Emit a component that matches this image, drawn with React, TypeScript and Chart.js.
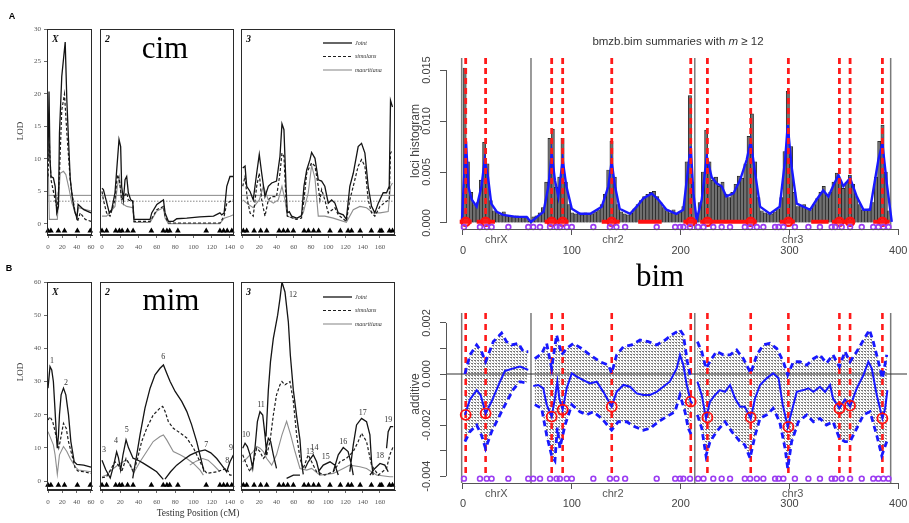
import React, { useEffect, useRef } from "react";
import { Chart, registerables } from "chart.js";

Chart.register(...registerables);

const W = 909;
const H = 523;
const SERIF = "'Liberation Serif', 'DejaVu Serif', serif";
const SANS = "'Liberation Sans', Arial, 'DejaVu Sans', sans-serif";

// ================= LEFT: LOD profiles (cM) =================
const markersX = [0, 4, 14.5, 23, 41, 59];
const markers2 = [0, 5, 15, 19, 22, 28, 34, 54, 67, 71, 74, 83, 114, 129, 133, 137, 142];
const markers3 = [1.5, 5.4, 14, 21.6, 28.6, 43, 48, 53, 59.5, 72, 77, 83, 88.8, 102, 114, 123, 127, 137, 150, 160, 162, 171, 174.5];

const xTicksX = [0, 20, 40, 60];
const xTicks2 = [0, 20, 40, 60, 80, 100, 120, 140];
const xTicks3 = [0, 20, 40, 60, 80, 100, 120, 140, 160];
const cimYTicks = [0, 5, 10, 15, 20, 25, 30];
const mimYTicks = [0, 10, 20, 30, 40, 50, 60];
const cimThresholds = [4.4, 3.5];
const legendNames = ["Joint", "simulans", "mauritiana"];

// --- cim chromosome X
const cimXJointX = [0, 1.4, 2.8, 4.2, 7.5, 10, 12.2, 14.6, 16, 19.2, 24, 26.3, 28.6, 31, 34, 37, 40.4, 42, 50, 60];
const cimXJointY = [9.9, 20.4, 9.9, 7.3, 7.1, 5.8, 1.7, 2.7, 14, 22.7, 28, 19, 13, 7, 4, 2, 0.9, 3, 2.2, 1.7];
const cimXSimX = [0, 1.9, 4.2, 9.9, 13, 16, 19.2, 23, 26.3, 31, 33.3, 38, 41.3, 45, 52, 60];
const cimXSimY = [7.3, 12.4, 6.8, 3.7, 2.2, 7.8, 17.5, 20, 14, 6.8, 4.8, 1.7, 0.4, 1.7, 0.7, 0.4];
const cimXMauX = [0.5, 1.9, 13, 17, 21.6, 24.9, 28.6, 33.3, 40.4, 42.7, 60];
const cimXMauY = [8, 0.7, 0.7, 7.8, 8.1, 7.6, 5.8, 3.2, 1.2, 2.5, 2.0];
// --- cim chromosome 2
const cim2JointX = [0, 1.5, 4.4, 8, 10.6, 14.2, 18.6, 20.4, 21.5, 23.4, 25.2, 27, 28.8, 31.4, 33.6, 35, 52.6, 54.4, 60, 67.2, 69, 72.6, 78, 81.8, 92.7, 107, 122, 129, 131, 133.6, 136.5, 140, 143.8];
const cim2JointY = [5.5, 5.3, 3.7, 1.7, 2.2, 4.8, 13, 11.9, 5.8, 3.7, 6.8, 7.3, 4.8, 3.7, 3.5, 0.7, 0.7, 1.7, 3, 3.7, 1.7, 0.4, 0.4, 0.8, 0.9, 1.1, 1.2, 1.7, 1.4, 1.7, 5.8, 7.3, 7.3];
const cim2SimX = [0, 1.5, 5, 8.8, 14.2, 16.8, 19, 21.5, 24, 27, 28.8, 31.4, 33.6, 35, 52.6, 60, 67.2, 69, 72.6, 129, 133.6, 136.5, 143.8];
const cim2SimY = [5, 3.7, 1.7, 1.2, 3.7, 7.6, 6.8, 3.7, 4.2, 4.8, 3.7, 3.5, 3.5, 0.4, 0.4, 2.2, 2.7, 1.2, 0.15, 0.15, 1.2, 3.2, 3.7];
const cim2MauX = [0, 5, 14.2, 16.8, 19, 21.5, 27, 33.6, 35, 52.6, 60, 67.2, 69, 72.6, 129, 133.6, 140, 143.8];
const cim2MauY = [1.2, 1.2, 2.7, 5.8, 7.3, 3.2, 2.7, 2.5, 0.25, 0.25, 2, 2.5, 0.9, 0.05, 0.05, 0.9, 1.2, 1.4];
// --- cim chromosome 3
const cim3JointX = [0.8, 3.5, 5.4, 9.3, 13, 17, 20, 22.8, 26.6, 30.5, 34.4, 40, 44, 46.3, 48.6, 51, 52.5, 54.8, 57.5, 63.3, 69, 71.8, 75, 78.8, 80.7, 84.6, 88.4, 92.3, 96, 100, 103.9, 107.7, 111.6, 117.4, 121, 125, 129, 134.7, 138.6, 142.5, 146.3, 150.2, 154, 158, 163.7, 167.6, 170.7, 172.2, 174.5];
const cim3JointY = [8.6, 8.9, 5.8, 5, 3.7, 7.8, 10.7, 7.8, 4.2, 5.8, 6.3, 6.6, 10.4, 15.4, 14.5, 5.8, 1.7, 1.9, 1.2, 0.9, 1.2, 5.8, 8.3, 9.9, 11, 10.1, 6.8, 6.6, 5.8, 3.2, 3.7, 3.2, 1.7, 1.4, 0.7, 5.8, 7.8, 11.9, 12.4, 10.9, 5.8, 2.7, 1.7, 3.2, 4.8, 4.8, 5.8, 19, 18];
const cim3SimX = [0.8, 3.5, 6.2, 9.3, 13, 17, 20, 22.8, 26.6, 30.5, 34.4, 40, 44, 46.3, 48.6, 51, 52.5, 63.3, 69, 71.8, 75, 78.8, 80.7, 84.6, 88.4, 90.3, 92.3, 96, 100, 107.7, 111.6, 121, 125, 129, 134.7, 138.6, 142.5, 146.3, 150.2, 154, 160, 167.6, 170.7, 172.2, 174.5];
const cim3SimY = [5.8, 7.3, 3.7, 1.7, 1.2, 5.8, 7.8, 3.7, 1.2, 3.7, 4.2, 4.2, 7.8, 10.9, 10.4, 3.7, 1.2, 0.7, 0.9, 3.7, 7.8, 8.9, 9.4, 8.9, 5.8, 3.7, 5.3, 3.7, 1.7, 2.5, 1.4, 0.4, 3.7, 5.8, 8.9, 9.9, 8.9, 3.7, 1.7, 1.2, 2.7, 3.5, 3.7, 10.9, 11.4];
const cim3MauX = [0.8, 5.4, 13, 17, 20, 24.7, 30.5, 36.3, 42, 46.3, 49.8, 52.5, 63.3, 71, 76.8, 80.7, 84.6, 88.4, 96, 105.8, 121, 129, 136.7, 144.4, 152, 160, 169.5, 172.2, 174.5];
const cim3MauY = [3.7, 3.2, 2.5, 3.2, 3.7, 5.8, 3.7, 3.2, 3.7, 5.8, 3.7, 1.2, 0.7, 1.7, 4.8, 9, 7, 1.2, 1.2, 0.9, 0.25, 2.2, 2.7, 2.5, 1.7, 1.7, 1.9, 5.8, 6.3];

// --- mim chromosome X
const mimXJointX = [0, 2.8, 5.2, 7.5, 9.9, 12.2, 13, 14.6, 16, 18.3, 21.6, 24.9, 28.6, 31.9, 36.6, 40.4, 49.8, 60];
const mimXJointY = [28, 34.5, 33.5, 30, 21, 11.9, 9.9, 13.9, 20, 26, 28, 26, 20, 11.9, 5.8, 5, 4.8, 4.2];
const mimXSimX = [0, 2.8, 6.6, 9.9, 13, 15, 17, 21.6, 25.4, 28.6, 33.3, 38, 42, 49.8, 60];
const mimXSimY = [18.4, 19.4, 17.9, 14.9, 11.9, 10, 12, 17.4, 15.9, 11.9, 7.9, 3.8, 3, 2.8, 2.3];
const mimXMauX = [0, 2.8, 7.5, 9.9, 13, 16, 21.6, 26.3, 31, 38, 42.7, 60];
const mimXMauY = [14.9, 13.4, 10.9, 7.9, 2, 7.9, 10.4, 8.9, 6.8, 4.3, 3.3, 2.8];
const mimXLabText = ["1", "2"];
const mimXLabX = [5.6, 25];
const mimXLabY = [36.2, 29.5];
// --- mim chromosome 2 (null = break between QTL curves)
const mim2JointX = [0, 4, 9, 13, 16, 18, 20.4, 23, 26.3, 29, 34, 40, 45, 52, 59.8, 67, null, 33.6, 38, 41.6, 47, 52.6, 58, 63.5, 67.2, 70.8, 74.5, 80, 87.2, 92.7, 98, 103.6, 109, 111.7, null, 68.9, 75, 81.7, 90, 96.3, 104, 112.7, 119, 125.5, 131, 136.4, 140, 143.7];
const mim2JointY = [6.3, 3.5, 0.9, 5, 8.8, 7, 3.3, 8, 12.4, 10, 6.9, 6.2, 5.4, 4.2, 2.8, 0.5, null, 0.8, 7.9, 13.9, 22, 28, 32, 34, 35, 32.5, 30, 27, 24, 21, 17, 11.9, 5.8, 2.8, null, 0.6, 2.8, 4.8, 6.6, 7.8, 8.8, 9.4, 8.5, 6.8, 4.8, 2.8, 5.8, 7.8];
const mim2SimX = [0, 5, 14.2, 17.9, 21.5, 26.3, 30.7, 34.3, 38, 43.4, 48.9, 56, 63.5, 66.4, 69, 72.6, 78, 85.4, 92.7, 100, 107.3, 110.9, 114.6, 125.5, 136.5, 140, 143.8];
const mim2SimY = [1, 1.3, 5.8, 4.8, 2.8, 6.8, 4.8, 2.8, 5.8, 11.9, 15.9, 19.9, 22, 22.5, 21, 17.9, 15.9, 14.5, 13, 10, 5.8, 3.8, 2.3, 2.8, 3.8, 1.8, 1.8];
const mim2MauX = [0, 5, 12.4, 19.7, 26.3, 31.4, 34.3, 41.6, 48.9, 56, 63.5, 67.2, 70.8, 78, 85.4, 92.7, 100, 107.3, 110.9, null, 96, 103, 110, 116, 122, 129];
const mim2MauY = [1.3, 1.8, 3.8, 5.3, 6.3, 4.8, 2.3, 5.8, 8.9, 11.9, 13.4, 13.9, 12.4, 8.9, 7.9, 6.8, 5.3, 3.3, 1.8, null, 4.8, 6, 6.8, 6.3, 4.8, 2.8];
const mim2LabText = ["3", "4", "5", "6", "7", "8", "9"];
const mim2LabX = [2.2, 15.3, 27, 67, 114, 137, 141];
const mim2LabY = [9.5, 12, 15.5, 37.5, 11, 6, 10];
// --- mim chromosome 3
const mim3JointX = [0.8, 3.5, 6.2, 9.3, 12.4, 15, 17.8, 20.8, 24, 26.6, 28.6, null, 26.6, 30.5, 33.2, 36.3, 40, null, 27.8, 30.5, 33, 36.3, 41.3, 44, 46.3, 49.8, 53.7, 56, 59.5, 63.4, 67.2, 69.2, 71, null, 51.7, 59.5, 67.2, null, 73, 76.8, 82.6, 86.5, 90.3, null, 88.4, 94.2, 102, 107.7, 111.6, null, 105.8, 111.6, 117.4, 123, 127, 129, null, 125, 129, 132.8, 138.6, 144.4, 148.3, 150.2, 152, null, 148.3, 154, 160, 165.6, 169.5, null, 167.6, 169.5, 172.2, 175.3];
const mim3JointY = [9.9, 11.4, 10.4, 7.9, 3.8, 9.9, 17.9, 20.9, 19.9, 13.9, 7.9, null, 7.9, 12.9, 11.9, 7.9, 3.8, null, 13.4, 27.4, 36, 43, 50, 55, 60, 57, 48, 38, 27.4, 19.4, 12.4, 5.3, 2, null, 0.8, 1.8, 1.8, null, 3.8, 5.8, 7.9, 5.8, 1.8, null, 2.8, 4.8, 5.8, 4.8, 1.8, null, 2.8, 7.9, 10.1, 8.9, 4.8, 1.8, null, 2.8, 10.9, 16.9, 18.9, 17.9, 13.9, 5.8, 1.8, null, 1.8, 3.8, 5.3, 4.8, 2.8, null, 9.9, 14.9, 16.4, 16.4];
const mim3SimX = [0.8, 5.4, 9.3, 13, 17, 20.8, 24.7, 28.6, 32.4, 36.3, 40, 44, 46.3, 49.8, 55.6, 59.5, 63.3, 67.2, 71, 76.8, 80.7, 86.5, 96, 105.8, 113.5, 121, 129, 134.7, 138.6, 144.4, 150.2, 158, 167.6, 171.4, 175.3];
const mim3SimY = [7.9, 4.8, 2.8, 5.8, 9.9, 8.9, 6.8, 7.9, 11.9, 19.9, 26, 29, 30, 29, 30, 24, 13.9, 6.8, 3.8, 7.9, 5.8, 2.8, 1.8, 2.8, 5.8, 6.8, 8.9, 11.9, 14.4, 11.9, 4.8, 1.8, 3.8, 7.9, 10.4];
const mim3MauX = [0.8, 5.4, 9.3, 13, 17, 20.8, 24.7, 28.6, 34.4, 40, 46.3, 51.7, 56.4, 61.4, 67.2, 74.9, 80.7, 90.3, 105.8, 117.4, 125, 136.7, 144.4, 156, 171.4, 175.3];
const mim3MauY = [5.8, 6.8, 7.9, 8.9, 10.4, 9.9, 8.9, 6.8, 4.8, 7.9, 13.9, 18, 13.9, 8.9, 3.8, 3.3, 3.8, 1.8, 2.3, 3.8, 4.8, 4.3, 3.8, 1.8, 1.3, 1.3];
const mim3LabText = ["10", "11", "12", "13", "14", "15", "16", "17", "18", "19"];
const mim3LabX = [4.6, 22, 59, 78.8, 84, 97, 117.5, 140, 160, 169.6];
const mim3LabY = [13.9, 22.9, 56, 8.7, 10, 7.3, 11.7, 20.4, 7.5, 18.4];

// ================= RIGHT: bim summaries (genome cM) =================
const rXTicks = [0, 100, 200, 300, 400];
const chromBounds = [-1.2, 62.5, 213, 393];
const chromNames = ["chrX", "chr2", "chr3"];
const qtlPos = [2.5, 20.8, 81.5, 91.6, 136.7, 209.3, 224.6, 264.4, 299, 345.9, 355.7, 385.4];
const intervalStart = [-3, 12.6, 75, 87.6, 127.5, 161, 202.5, 218, 291, 320, 339, 349.5, 377];
const intervalEnd = [8, 29.4, 87.6, 97, 144, 182.6, 215, 270, 305, 336, 349.5, 360, 392];
const purplePos = [0.9, 15.6, 21.8, 26.3, 41.7, 60, 64.6, 70.8, 80, 86, 89, 95.3, 100, 119.8, 135, 141, 149, 178, 195, 199.5, 202.5, 208.6, 216, 221, 230, 237.7, 245.4, 259, 263.8, 270, 276, 286.8, 290, 294.4, 305, 317.4, 328, 338.8, 342, 348, 355.7, 366.4, 377, 381.7, 386.3, 391];

const histX = [
  1.5, 4.5, 7.5, 10.5, 13.5, 16.5, 19.5, 22.5, 25.5, 28.5,
  31.5, 34.5, 37.5, 40.5, 43.5, 46.5, 49.5, 52.5, 55.5, 58.5,
  61.5, 64.5, 67.5, 70.5, 73.5, 76.5, 79.5, 82.5, 85.5, 88.5,
  91.5, 94.5, 97.5, 100.5, 103.5, 106.5, 109.5, 112.5, 115.5, 118.5,
  121.5, 124.5, 127.5, 130.5, 133.5, 136.5, 139.5, 142.5, 145.5, 148.5,
  151.5, 154.5, 157.5, 160.5, 163.5, 166.5, 169.5, 172.5, 175.5, 178.5,
  181.5, 184.5, 187.5, 190.5, 193.5, 196.5, 199.5, 202.5, 205.5, 208.5,
  211.5, 214.5, 217.5, 220.5, 223.5, 226.5, 229.5, 232.5, 235.5, 238.5,
  241.5, 244.5, 247.5, 250.5, 253.5, 256.5, 259.5, 262.5, 265.5, 268.5,
  271.5, 274.5, 277.5, 280.5, 283.5, 286.5, 289.5, 292.5, 295.5, 298.5,
  301.5, 304.5, 307.5, 310.5, 313.5, 316.5, 319.5, 322.5, 325.5, 328.5,
  331.5, 334.5, 337.5, 340.5, 343.5, 346.5, 349.5, 352.5, 355.5, 358.5,
  361.5, 364.5, 367.5, 370.5, 373.5, 376.5, 379.5, 382.5, 385.5, 388.5,
  391.5,
];
const histY = [
  0.0152, 0.006, 0.003, 0.0018, 0.002, 0.0042, 0.0079, 0.0058, 0.0022, 0.0012,
  0.001, 0.0008, 0.0011, 0.0007, 0.0007, 0.0006, 0.0007, 0.0006, 0.0006, 0.0006,
  0.0002, 0.0006, 0.0007, 0.001, 0.0015, 0.004, 0.0083, 0.0092, 0.0035, 0.0045,
  0.0083, 0.004, 0.0018, 0.001, 0.0009, 0.001, 0.0008, 0.001, 0.0009, 0.0009,
  0.0011, 0.0013, 0.0018, 0.0028, 0.0052, 0.008, 0.0045, 0.0018, 0.0011, 0.0009,
  0.0008, 0.001, 0.0014, 0.0018, 0.0022, 0.0026, 0.0028, 0.003, 0.0031, 0.0026,
  0.002, 0.0015, 0.0012, 0.001, 0.0013, 0.0009, 0.0011, 0.0016, 0.006, 0.0125,
  0.004, 0.0004, 0.002, 0.005, 0.0091, 0.006, 0.0042, 0.0045, 0.0036, 0.004,
  0.0028, 0.0025, 0.003, 0.0038, 0.0046, 0.0044, 0.0058, 0.0085, 0.0107, 0.006,
  0.0025, 0.0012, 0.001, 0.0009, 0.0009, 0.0011, 0.0014, 0.0025, 0.007, 0.0129,
  0.0075, 0.003, 0.0016, 0.0017, 0.0018, 0.0014, 0.0013, 0.0018, 0.0024, 0.003,
  0.0036, 0.0028, 0.003, 0.004, 0.0049, 0.004, 0.0034, 0.004, 0.0047, 0.0038,
  0.0026, 0.0018, 0.0013, 0.0012, 0.0014, 0.002, 0.0045, 0.008, 0.0096, 0.005,
  0.0012,
];
const blueX = [-1, 0.5, 2.8, 4.9, 8, 12.6, 17, 20, 23, 26, 31, 37, 49, 58.5, 62.5, 68, 74, 78.5, 81.5, 84.5, 87.6, 91.6, 95, 100, 107.5, 117, 127.5, 133.6, 136.6, 139.7, 144, 153.5, 159.6, 165.7, 173.4, 179.5, 187, 196, 202.5, 207, 209.3, 211.7, 214.7, 219.4, 224, 228.5, 233, 237.7, 242, 248.5, 254.6, 260.7, 264.4, 268, 273, 282, 291, 296, 298.4, 302, 306.7, 312.8, 319, 325, 331, 335.8, 340, 345, 349.5, 355.7, 361.8, 368, 374, 381.7, 385.4, 389.4, 394];
const blueY = [0.0001, 0.0035, 0.008, 0.0036, 0.0023, 0.0016, 0.0036, 0.0062, 0.0045, 0.0019, 0.0011, 0.0008, 0.0006, 0.0006, 0.0001, 0.0006, 0.0011, 0.0036, 0.0068, 0.0042, 0.0026, 0.0062, 0.0036, 0.0014, 0.0009, 0.0009, 0.0016, 0.0036, 0.006, 0.0036, 0.0014, 0.0009, 0.0016, 0.0024, 0.0029, 0.0023, 0.0013, 0.0009, 0.0013, 0.0055, 0.0075, 0.0029, 0.0003, 0.0023, 0.0065, 0.0045, 0.0039, 0.0036, 0.0026, 0.0029, 0.0042, 0.0062, 0.008, 0.0052, 0.0016, 0.0009, 0.0016, 0.0062, 0.0096, 0.0055, 0.0019, 0.0016, 0.0013, 0.0023, 0.0032, 0.0026, 0.0036, 0.0047, 0.0036, 0.0044, 0.0026, 0.0013, 0.0013, 0.0062, 0.0078, 0.0039, 0.0001];
const histYTicks = [0, 0.005, 0.01, 0.015];
const histYLabels = ["0.000", "0.005", "0.010", "0.015"];

const meanX = [1.8, 6.4, 12.6, 16.2, 20.8, 26.3, 34, 38.6, 46.3, 52.4, 60, null, 64.6, 69.2, 73.8, 76.9, 81.5, 84.5, 86.7, 88.5, 91.6, 95.3, 100, 104.5, 110.6, 116.7, 122.9, 129, 136.6, 141.2, 147.4, 153.5, 159.6, 165.7, 171.9, 178, 184, 190, 196.4, 199.4, 202.5, 205.6, 209.3, 211, null, 215.4, 219.4, 223.3, 227, 231.6, 236, 240.8, 245.4, 250, 254.6, 259, 264.4, 268.4, 273, 279, 285, 290, 293.8, 298.4, 302, 306.7, 312.8, 317.4, 322, 328, 332.7, 337.3, 340, 345.9, 351, 355.7, 361.8, 368, 372.5, 375.6, 380.2, 385.4, 387.9, 390];
const meanY = [-0.0016, -0.001, -0.00063, -0.00082, -0.00154, -0.00108, -0.0003, 0.00012, 0.00022, 0.00029, 0.00016, null, -0.00047, -0.00043, -0.00056, -0.0012, -0.00167, -0.00095, -0.0003, -0.00095, -0.0014, -0.00056, 0.00003, -0.0001, -0.00024, -0.00037, -0.0003, -0.0007, -0.00128, -0.0007, -0.00043, -0.0005, -0.00076, -0.00082, -0.00082, -0.0007, -0.0005, -0.0003, 0.00022, 0.00075, 0.00035, -0.00043, -0.00108, -0.00115, null, -0.0003, -0.00082, -0.00174, -0.00108, -0.00082, -0.00063, -0.0007, -0.00043, -0.00095, -0.00128, -0.00128, -0.00174, -0.00095, -0.00043, -0.00017, 0.00003, -0.00017, -0.0012, -0.00207, -0.00148, -0.0007, -0.00063, -0.00056, -0.0007, -0.0005, -0.0007, -0.00043, -0.00095, -0.00135, -0.001, -0.00128, -0.00056, -0.00004, 0.00048, 0.00022, -0.00082, -0.00174, -0.00135, -0.00063];
const upperX = [1.8, 6.4, 12.6, 17, 20.8, 27.9, 35.5, 40, 44.7, 50.9, 55.5, 60, null, 66, 72.3, 76.9, 81.5, 86, 90.7, 95.3, 101.4, 109, 116.7, 126, 133.6, 136.6, 141.2, 147.4, 155, 162.7, 170.3, 178, 185.7, 191.8, 199.4, 202.5, 206.2, 209.3, null, 215.4, 219.4, 223.3, 228.5, 233, 239.3, 245.4, 251.5, 257.7, 264.4, 270, 276, 282, 288.3, 294.4, 298.4, 303.6, 309.7, 315.9, 322, 328, 334, 340, 345.9, 351, 355.7, 361.8, 368, 373.5, 377, 381.7, 385.4, 389.4];
const upperY = [0, 0.00075, 0.00114, 0.00088, 0.00048, 0.00127, 0.0016, 0.00127, 0.00114, 0.0012, 0.00088, 0.00088, null, 0.0006, 0.0008, 0.0012, 0.00022, 0.00153, 0.00075, 0.001, 0.0012, 0.001, 0.00075, 0.00048, 0.00035, 0.00003, 0.00075, 0.00107, 0.00114, 0.00133, 0.00127, 0.00114, 0.00133, 0.00153, 0.00173, 0.00153, 0.00048, -0.00017, null, 0.00127, 0.00088, 0.00022, 0.0006, 0.00088, 0.00075, 0.00075, 0.00094, 0.0006, 0.00003, 0.00075, 0.00114, 0.0012, 0.001, 0.00048, -0.00004, 0.00048, 0.00048, 0.00035, 0.0006, 0.00075, 0.00042, 0.00075, 0.00029, 0.00088, 0.00048, 0.00088, 0.00133, 0.00173, 0.00127, 0.00048, -0.00017, 0.00075];
const lowerX = [1.8, 6.4, 12.6, 17, 20.8, 26.3, 34, 40, 46.3, 52.4, 58.5, null, 66, 72.3, 76.9, 81.5, 84.5, 86.7, 89, 93.8, 100, 107.5, 113.7, 119.8, 127.5, 136.6, 142.8, 150.4, 158, 165.7, 171.9, 179.5, 187.2, 194.8, 199.4, 204, 207, 210, null, 215.4, 219.4, 223.3, 227, 233, 240.8, 247, 254.6, 259, 263.8, 268.4, 273, 279, 285, 291, 296, 298.4, 302, 308.2, 315.9, 322, 328, 334, 340, 345.9, 351, 355.7, 361.8, 368, 374, 380.2, 384.8, 389.4];
const lowerY = [-0.00265, -0.00226, -0.002, -0.0024, -0.00292, -0.00226, -0.0016, -0.0011, -0.0006, -0.0003, -0.00035, null, -0.0012, -0.00135, -0.0024, -0.0032, -0.0034, -0.0021, -0.0029, -0.002, -0.0012, -0.00148, -0.0016, -0.00148, -0.00174, -0.0022, -0.00187, -0.00187, -0.00207, -0.0022, -0.00213, -0.00187, -0.00167, -0.00148, -0.00082, -0.00148, -0.00213, -0.0024, null, -0.0016, -0.00213, -0.0032, -0.00265, -0.00226, -0.00187, -0.00226, -0.00265, -0.00278, -0.0033, -0.0024, -0.00174, -0.0016, -0.00135, -0.00187, -0.00292, -0.0037, -0.00265, -0.00187, -0.0016, -0.00187, -0.00174, -0.002, -0.00187, -0.00252, -0.00265, -0.00265, -0.00213, -0.0016, -0.00148, -0.0024, -0.0032, -0.00265];
const qtlAdd = [-0.0016, -0.00154, -0.00167, -0.0014, -0.00128, -0.00108, -0.0017, -0.0017, -0.00207, -0.00135, -0.00124, -0.00174];
const addYTicks = [-0.004, -0.003, -0.002, -0.001, 0, 0.001, 0.002];
const addYLabels = ["-0.004", "", "-0.002", "", "0.000", "", "0.002"];

// ================= helpers =================
type Area = { l: number; t: number; r: number; b: number };
type NA = (number | null)[];

const pts = (xs: NA, ys: NA) => xs.map((x, i) => ({ x: x === null ? 0 : x, y: ys[i] }));

function segments(xs: NA, ys: NA) {
  const out: { x: number; y: number }[][] = [];
  let cur: { x: number; y: number }[] = [];
  xs.forEach((x, i) => {
    const y = ys[i];
    if (x === null || y === null) {
      if (cur.length) out.push(cur);
      cur = [];
    } else cur.push({ x, y });
  });
  if (cur.length) out.push(cur);
  return out;
}

function padFor(a: Area, yw: number, xh: number) {
  return { left: a.l - yw, top: a.t, right: W - a.r, bottom: H - a.b - xh };
}
const fixedTicks = (vals: number[]) => (s: any) => {
  s.ticks = vals.map((v) => ({ value: v }));
};

const STY: Record<string, any> = {
  joint: { borderColor: "#141414", borderWidth: 1.3, borderDash: [] },
  sim: { borderColor: "#1e1e1e", borderWidth: 1.2, borderDash: [3, 2] },
  mau: { borderColor: "#8e8e8e", borderWidth: 1.1, borderDash: [] },
};

const framePlugin = {
  id: "frame",
  afterDraw(chart: any) {
    const { ctx, chartArea: a } = chart;
    ctx.save();
    ctx.strokeStyle = "#2a2a2a";
    ctx.lineWidth = 1;
    ctx.strokeRect(Math.round(a.left) + 0.5, Math.round(a.top) + 0.5, Math.round(a.right - a.left) - 1, Math.round(a.bottom - a.top) - 1);
    ctx.restore();
  },
};

type Series = { xs: NA; ys: NA; kind: string };
type Panel = {
  area: Area; xmin: number; xmax: number; ymin: number; ymax: number;
  xticks: number[]; yticks?: number[]; series: Series[]; markers: number[]; markerY: number;
  thresholds?: number[]; chrom: string; legend?: boolean; legendDy?: number;
  labText?: string[]; labX?: number[]; labY?: number[];
};

function panelText(p: Panel) {
  return {
    id: "ptext",
    afterDraw(chart: any) {
      const { ctx, chartArea: a, scales } = chart;
      ctx.save();
      ctx.fillStyle = "#111";
      ctx.font = `italic bold 10px ${SERIF}`;
      ctx.textBaseline = "middle";
      ctx.textAlign = "left";
      ctx.fillText(p.chrom, a.left + 5, a.top + 10);
      if (p.labText && p.labX && p.labY) {
        ctx.font = `8px ${SERIF}`;
        ctx.textAlign = "center";
        ctx.fillStyle = "#333";
        p.labText.forEach((t, i) => {
          ctx.fillText(t, scales.x.getPixelForValue(p.labX![i]), scales.y.getPixelForValue(p.labY![i]));
        });
      }
      if (p.legend) {
        const dy = p.legendDy || 0;
        const kinds = ["joint", "sim", "mau"];
        ctx.font = `italic 6px ${SERIF}`;
        ctx.textAlign = "left";
        kinds.forEach((k, i) => {
          const y = a.top + 14 + dy + i * 13.5;
          ctx.beginPath();
          ctx.strokeStyle = STY[k].borderColor;
          ctx.lineWidth = STY[k].borderWidth;
          ctx.setLineDash(STY[k].borderDash);
          ctx.moveTo(a.right - 72, y);
          ctx.lineTo(a.right - 43, y);
          ctx.stroke();
          ctx.setLineDash([]);
          ctx.fillStyle = "#333";
          ctx.fillText(legendNames[i], a.right - 40, y);
        });
      }
      ctx.restore();
    },
  };
}

function lodPanel(p: Panel) {
  const yw = p.yticks ? 24 : 0;
  const xh = 22;
  const datasets: any[] = [];
  datasets.push({
    type: "scatter",
    data: p.markers.map((x) => ({ x, y: p.markerY })),
    pointStyle: "triangle",
    pointRadius: 3.3,
    pointBackgroundColor: "#000",
    pointBorderColor: "#000",
    pointBorderWidth: 0,
    clip: false,
    order: 0,
  });
  p.series.forEach((s, i) =>
    datasets.push({
      type: "line",
      showLine: true,
      data: pts(s.xs, s.ys),
      ...STY[s.kind],
      pointRadius: 0,
      fill: false,
      spanGaps: false,
      order: 1 + i,
    })
  );
  (p.thresholds || []).forEach((t, i) =>
    datasets.push({
      type: "line",
      showLine: true,
      data: [{ x: p.xmin, y: t }, { x: p.xmax, y: t }],
      borderColor: "#6a6a6a",
      borderWidth: 0.8,
      borderDash: i ? [1.5, 1.5] : [],
      pointRadius: 0,
      order: 20,
    })
  );
  const tickFont = { family: SERIF, size: 7 };
  return {
    type: "scatter",
    data: { datasets },
    options: {
      responsive: false,
      animation: false,
      events: [],
      layout: { padding: padFor(p.area, yw, xh), autoPadding: false },
      plugins: { legend: { display: false }, tooltip: { enabled: false }, title: { display: false } },
      scales: {
        x: {
          type: "linear", min: p.xmin, max: p.xmax, offset: false,
          afterBuildTicks: fixedTicks(p.xticks),
          afterFit: (s: any) => { s.height = xh; s.paddingLeft = 0; s.paddingRight = 0; },
          grid: { drawOnChartArea: false, offset: false, tickLength: 3, color: "#444", lineWidth: 0.8 },
          border: { color: "#2a2a2a", width: 1 },
          ticks: { font: tickFont, color: "#555", padding: 5, autoSkip: false, maxRotation: 0, minRotation: 0 },
        },
        y: p.yticks
          ? {
              type: "linear", min: p.ymin, max: p.ymax,
              afterBuildTicks: fixedTicks(p.yticks),
              afterFit: (s: any) => { s.width = yw; s.paddingTop = 0; s.paddingBottom = 0; },
              grid: { drawOnChartArea: false, tickLength: 3, color: "#444", lineWidth: 0.8 },
              border: { color: "#2a2a2a", width: 1 },
              ticks: { font: tickFont, color: "#555", padding: 3, autoSkip: false },
            }
          : { type: "linear", display: false, min: p.ymin, max: p.ymax },
      },
    },
    plugins: [framePlugin, panelText(p)],
  };
}

const A_T = 29, A_B = 235, B_T = 282, B_B = 490;
const colX = { l: 47, r: 92, min: -1.4, max: 61.4 };
const col2 = { l: 100, r: 234, min: -2.2, max: 144.4 };
const col3 = { l: 241, r: 395, min: -1.2, max: 177.4 };

const leftBuilders = [
  () => lodPanel({
    area: { l: colX.l, t: A_T, r: colX.r, b: A_B }, xmin: colX.min, xmax: colX.max, ymin: -1.7, ymax: 30,
    xticks: xTicksX, yticks: cimYTicks, markers: markersX, markerY: -1.05, thresholds: cimThresholds, chrom: "X",
    series: [
      { xs: cimXJointX, ys: cimXJointY, kind: "joint" },
      { xs: cimXSimX, ys: cimXSimY, kind: "sim" },
      { xs: cimXMauX, ys: cimXMauY, kind: "mau" },
    ],
  }),
  () => lodPanel({
    area: { l: col2.l, t: A_T, r: col2.r, b: A_B }, xmin: col2.min, xmax: col2.max, ymin: -1.7, ymax: 30,
    xticks: xTicks2, markers: markers2, markerY: -1.05, thresholds: cimThresholds, chrom: "2",
    series: [
      { xs: cim2JointX, ys: cim2JointY, kind: "joint" },
      { xs: cim2SimX, ys: cim2SimY, kind: "sim" },
      { xs: cim2MauX, ys: cim2MauY, kind: "mau" },
    ],
  }),
  () => lodPanel({
    area: { l: col3.l, t: A_T, r: col3.r, b: A_B }, xmin: col3.min, xmax: col3.max, ymin: -1.7, ymax: 30,
    xticks: xTicks3, markers: markers3, markerY: -1.05, thresholds: cimThresholds, chrom: "3", legend: true,
    series: [
      { xs: cim3JointX, ys: cim3JointY, kind: "joint" },
      { xs: cim3SimX, ys: cim3SimY, kind: "sim" },
      { xs: cim3MauX, ys: cim3MauY, kind: "mau" },
    ],
  }),
  () => lodPanel({
    area: { l: colX.l, t: B_T, r: colX.r, b: B_B }, xmin: colX.min, xmax: colX.max, ymin: -2.7, ymax: 60,
    xticks: xTicksX, yticks: mimYTicks, markers: markersX, markerY: -1.2, chrom: "X",
    labText: mimXLabText, labX: mimXLabX, labY: mimXLabY,
    series: [
      { xs: mimXJointX, ys: mimXJointY, kind: "joint" },
      { xs: mimXSimX, ys: mimXSimY, kind: "sim" },
      { xs: mimXMauX, ys: mimXMauY, kind: "mau" },
    ],
  }),
  () => lodPanel({
    area: { l: col2.l, t: B_T, r: col2.r, b: B_B }, xmin: col2.min, xmax: col2.max, ymin: -2.7, ymax: 60,
    xticks: xTicks2, markers: markers2, markerY: -1.2, chrom: "2",
    labText: mim2LabText, labX: mim2LabX, labY: mim2LabY,
    series: [
      { xs: mim2JointX, ys: mim2JointY, kind: "joint" },
      { xs: mim2SimX, ys: mim2SimY, kind: "sim" },
      { xs: mim2MauX, ys: mim2MauY, kind: "mau" },
    ],
  }),
  () => lodPanel({
    area: { l: col3.l, t: B_T, r: col3.r, b: B_B }, xmin: col3.min, xmax: col3.max, ymin: -2.7, ymax: 60,
    xticks: xTicks3, markers: markers3, markerY: -1.2, chrom: "3", legend: true, legendDy: 1,
    labText: mim3LabText, labX: mim3LabX, labY: mim3LabY,
    series: [
      { xs: mim3JointX, ys: mim3JointY, kind: "joint" },
      { xs: mim3SimX, ys: mim3SimY, kind: "sim" },
      { xs: mim3MauX, ys: mim3MauY, kind: "mau" },
    ],
  }),
];

// ================= right charts =================
const R_XMIN = -15.6;
const R_XMAX = 408;
const R_YW = 40;
const R_XH = 30;

function rAxes(yTicks: number[], yLabels: string[], xLabelPad: number) {
  return {
    id: "raxes",
    afterDraw(chart: any) {
      const { ctx, chartArea: a, scales } = chart;
      const x = scales.x, y = scales.y;
      ctx.save();
      ctx.strokeStyle = "#555";
      ctx.lineWidth = 1;
      ctx.beginPath();
      ctx.moveTo(Math.round(a.left) + 0.5, y.getPixelForValue(yTicks[0]));
      ctx.lineTo(Math.round(a.left) + 0.5, y.getPixelForValue(yTicks[yTicks.length - 1]));
      ctx.moveTo(x.getPixelForValue(rXTicks[0]), Math.round(a.bottom) + 0.5);
      ctx.lineTo(x.getPixelForValue(rXTicks[rXTicks.length - 1]), Math.round(a.bottom) + 0.5);
      ctx.stroke();
      ctx.fillStyle = "#444";
      ctx.font = `11px ${SANS}`;
      ctx.textAlign = "center";
      ctx.textBaseline = "middle";
      yTicks.forEach((v, i) => {
        if (!yLabels[i]) return;
        ctx.save();
        ctx.translate(a.left - 19, y.getPixelForValue(v));
        ctx.rotate(-Math.PI / 2);
        ctx.fillText(yLabels[i], 0, 0);
        ctx.restore();
      });
      ctx.textBaseline = "top";
      rXTicks.forEach((v) => {
        ctx.fillText(String(v), x.getPixelForValue(v), a.bottom + 6 + xLabelPad);
      });
      ctx.textBaseline = "middle";
      ctx.fillStyle = "#555";
      chromNames.forEach((n, i) => {
        const cx = x.getPixelForValue((chromBounds[i] + chromBounds[i + 1]) / 2);
        ctx.fillText(n, cx, a.bottom + 11);
      });
      ctx.restore();
    },
  };
}

function rScales(ymin: number, ymax: number, yTicks: number[]) {
  return {
    x: {
      type: "linear", min: R_XMIN, max: R_XMAX, offset: false,
      afterBuildTicks: fixedTicks(rXTicks),
      afterFit: (s: any) => { s.height = R_XH; s.paddingLeft = 0; s.paddingRight = 0; },
      grid: { drawOnChartArea: false, offset: false, tickLength: 6, color: "#555", lineWidth: 1 },
      border: { display: false },
      ticks: { display: false },
    },
    y: {
      type: "linear", min: ymin, max: ymax, offset: false,
      afterBuildTicks: fixedTicks(yTicks),
      afterFit: (s: any) => { s.width = R_YW; s.paddingTop = 0; s.paddingBottom = 0; },
      grid: { drawOnChartArea: false, offset: false, tickLength: 6, color: "#555", lineWidth: 1 },
      border: { display: false },
      ticks: { display: false },
    },
  };
}

function verticals(xs: number[], top: number, bottom: number) {
  const out: any[] = [];
  xs.forEach((x) => {
    out.push({ x, y: top }, { x, y: bottom }, { x, y: null });
  });
  return out;
}

const HIST_Y = { min: -0.00059, max: 0.01618 };
const ADD_Y = { min: -0.00427, max: 0.00239 };
const PURPLE_Y_TOP = -0.0004;
const RED_Y_TOP = 0.00012;
const PURPLE_Y_ADD = -0.0041;

function histChart() {
  const intervals: any[] = [];
  intervalStart.forEach((s, i) => {
    intervals.push({ x: s, y: RED_Y_TOP }, { x: intervalEnd[i], y: RED_Y_TOP }, { x: intervalEnd[i], y: null });
  });
  const datasets: any[] = [
    { type: "scatter", data: purplePos.map((x) => ({ x, y: PURPLE_Y_TOP })), pointRadius: 2.4, pointBorderWidth: 1.6, pointBorderColor: "#9b3cf2", pointBackgroundColor: "rgba(0,0,0,0)", clip: false, order: 0 },
    { type: "scatter", data: qtlPos.map((x) => ({ x, y: RED_Y_TOP })), pointRadius: 4.2, pointBorderWidth: 2.2, pointBorderColor: "#ff1010", pointBackgroundColor: "rgba(255,40,40,0.35)", clip: false, order: 1 },
    { type: "line", showLine: true, data: intervals, borderColor: "#ff1010", borderWidth: 4, pointRadius: 0, order: 2 },
    { type: "line", showLine: true, data: verticals(qtlPos, HIST_Y.max, 0), borderColor: "#ff1a1a", borderWidth: 2.8, borderDash: [6, 4], pointRadius: 0, order: 3 },
    { type: "line", showLine: true, data: pts(blueX, blueY), borderColor: "#1818ff", borderWidth: 2.4, pointRadius: 0, order: 4 },
    { type: "line", showLine: true, data: verticals(chromBounds, HIST_Y.max, HIST_Y.min), borderColor: "#7a7a7a", borderWidth: 1.5, pointRadius: 0, order: 5 },
    { type: "bar", data: pts(histX, histY), backgroundColor: "#707070", borderColor: "#1c1c1c", borderWidth: 0.7, barPercentage: 1, categoryPercentage: 1, order: 6 },
  ];
  return {
    type: "scatter",
    data: { datasets },
    options: {
      responsive: false, animation: false, events: [],
      layout: { padding: padFor({ l: 446, t: 58, r: 907, b: 229 }, R_YW, R_XH), autoPadding: false },
      plugins: { legend: { display: false }, tooltip: { enabled: false } },
      scales: rScales(HIST_Y.min, HIST_Y.max, histYTicks),
    },
    plugins: [rAxes(histYTicks, histYLabels, 10)],
  };
}

function cloudPattern() {
  const c = document.createElement("canvas");
  c.width = 3;
  c.height = 3;
  const g = c.getContext("2d")!;
  g.fillStyle = "rgba(60,60,60,0.7)";
  g.fillRect(0, 0, 2, 1);
  g.fillStyle = "rgba(90,90,90,0.5)";
  g.fillRect(1, 1, 1, 1);
  g.fillStyle = "rgba(120,120,120,0.3)";
  g.fillRect(2, 2, 1, 1);
  return g.createPattern(c, "repeat");
}

function addChart() {
  const pattern = cloudPattern();
  const ups = segments(upperX, upperY);
  const lows = segments(lowerX, lowerY);
  const clouds = ups.map((u, k) => ({
    type: "line", showLine: true,
    data: [...u, ...(lows[k] || []).slice().reverse()],
    borderWidth: 0, pointRadius: 0, fill: "shape", backgroundColor: pattern, order: 9,
  }));
  const datasets: any[] = [
    { type: "scatter", data: purplePos.map((x) => ({ x, y: PURPLE_Y_ADD })), pointRadius: 2.4, pointBorderWidth: 1.6, pointBorderColor: "#9b3cf2", pointBackgroundColor: "rgba(0,0,0,0)", clip: false, order: 0 },
    { type: "scatter", data: pts(qtlPos, qtlAdd), pointRadius: 5, pointBorderWidth: 1.8, pointBorderColor: "#ff1010", pointBackgroundColor: "rgba(0,0,0,0)", order: 1 },
    { type: "line", showLine: true, data: pts(meanX, meanY), borderColor: "#1818ff", borderWidth: 2, pointRadius: 0, order: 2 },
    { type: "line", showLine: true, data: pts(upperX, upperY), borderColor: "#1818ff", borderWidth: 2.8, borderDash: [6, 4], pointRadius: 0, order: 3 },
    { type: "line", showLine: true, data: pts(lowerX, lowerY), borderColor: "#1818ff", borderWidth: 2.8, borderDash: [6, 4], pointRadius: 0, order: 3 },
    { type: "line", showLine: true, data: verticals(qtlPos, ADD_Y.max, ADD_Y.min + 0.0002), borderColor: "#ff1a1a", borderWidth: 2.6, borderDash: [6, 5], pointRadius: 0, order: 4 },
    { type: "line", showLine: true, data: [{ x: R_XMIN, y: 0 }, { x: R_XMAX, y: 0 }], borderColor: "#333", borderWidth: 1.2, pointRadius: 0, order: 5 },
    { type: "line", showLine: true, data: verticals(chromBounds, ADD_Y.max, ADD_Y.min), borderColor: "#7a7a7a", borderWidth: 1.5, pointRadius: 0, order: 6 },
    ...clouds,
  ];
  return {
    type: "scatter",
    data: { datasets },
    options: {
      responsive: false, animation: false, events: [],
      layout: { padding: padFor({ l: 446, t: 313, r: 907, b: 483 }, R_YW, R_XH), autoPadding: false },
      plugins: { legend: { display: false }, tooltip: { enabled: false } },
      scales: rScales(ADD_Y.min, ADD_Y.max, addYTicks),
    },
    plugins: [rAxes(addYTicks, addYLabels, 9)],
  };
}

const builders = [...leftBuilders, histChart, addChart];

function Layer({ build }: { build: () => any }) {
  const ref = useRef<HTMLCanvasElement | null>(null);
  useEffect(() => {
    const chart = new Chart(ref.current as HTMLCanvasElement, build());
    return () => chart.destroy();
  }, [build]);
  return <canvas ref={ref} width={W} height={H} style={{ position: "absolute", left: 0, top: 0, width: W, height: H }} />;
}

function Txt({ x, y, children, style, rotate }: any) {
  return (
    <div
      style={{
        position: "absolute", left: x, top: y, whiteSpace: "nowrap", lineHeight: 1,
        transform: `translate(-50%, -50%)${rotate ? " rotate(-90deg)" : ""}`,
        ...style,
      }}
    >
      {children}
    </div>
  );
}

export default function App() {
  const big = { fontFamily: SERIF, fontSize: 31, color: "#000" };
  return (
    <div style={{ position: "absolute", left: 0, top: 0, width: W, height: H, background: "#fff", overflow: "hidden" }}>
      {builders.map((b, i) => (
        <Layer key={i} build={b} />
      ))}
      <Txt x={12} y={16} style={{ fontFamily: SANS, fontWeight: "bold", fontSize: 9 }}>A</Txt>
      <Txt x={9} y={268} style={{ fontFamily: SANS, fontWeight: "bold", fontSize: 9 }}>B</Txt>
      <Txt x={20} y={131} rotate style={{ fontFamily: SERIF, fontSize: 9, color: "#333" }}>LOD</Txt>
      <Txt x={20} y={372} rotate style={{ fontFamily: SERIF, fontSize: 9, color: "#333" }}>LOD</Txt>
      <Txt x={198} y={514} style={{ fontFamily: SERIF, fontSize: 9.5, color: "#333" }}>Testing Position (cM)</Txt>
      <Txt x={165} y={47} style={big}>cim</Txt>
      <Txt x={171} y={299} style={big}>mim</Txt>
      <Txt x={660} y={275} style={big}>bim</Txt>
      <Txt x={678} y={42} style={{ fontFamily: SANS, fontSize: 11.5, color: "#333" }}>
        bmzb.bim summaries with <i>m</i> ≥ 12
      </Txt>
      <Txt x={415} y={141} rotate style={{ fontFamily: SANS, fontSize: 12, color: "#444" }}>loci histogram</Txt>
      <Txt x={415} y={394} rotate style={{ fontFamily: SANS, fontSize: 12, color: "#444" }}>additive</Txt>
    </div>
  );
}
